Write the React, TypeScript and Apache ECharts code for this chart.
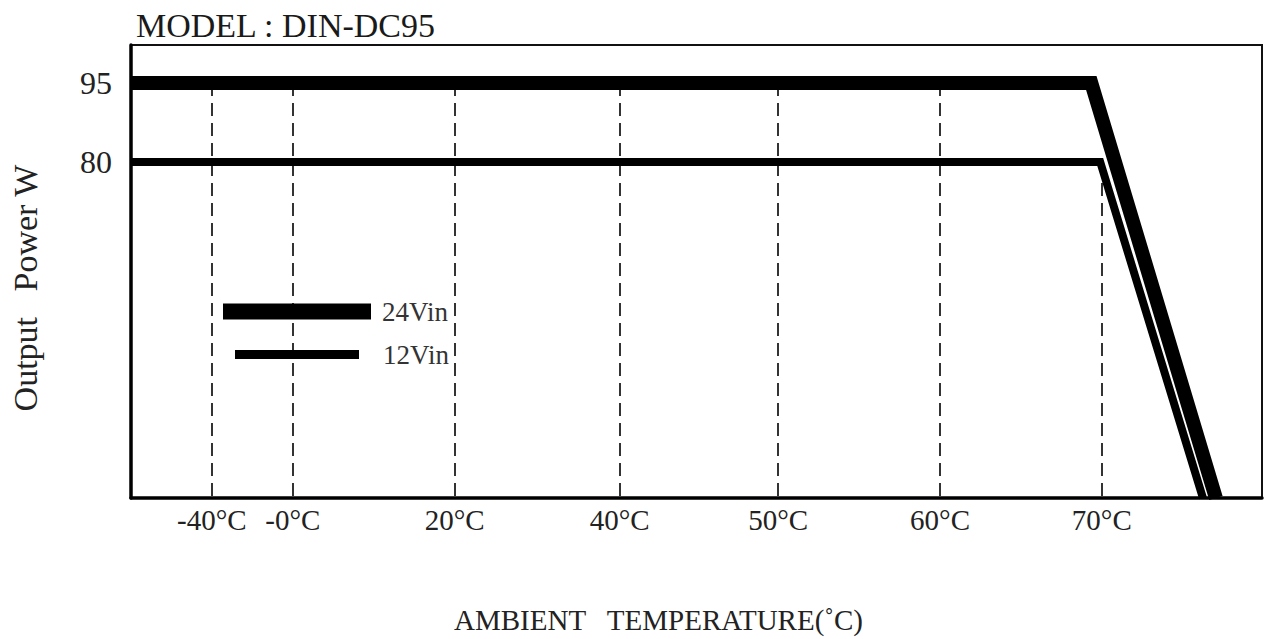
import React, { useEffect, useRef } from "react";
import * as echarts from "echarts";

// X axis is drawn in "position units": each tick label sits at its position on the printed axis.
const tickPositions = [1, 2, 4, 6.04, 8, 10, 12];
const tickLabels = ["-40°C", "-0°C", "20°C", "40°C", "50°C", "60°C", "70°C"];
// value (W) at which each dashed guide line starts (goes down to the bottom of the plot)
const guideTop = [95, 95, 95, 95, 95, 95, 76];

const powerTicks = [80, 95];
const powerLabels = ["80", "95"];

const seriesNames = ["24Vin", "12Vin"];
const vin24: [number, number][] = [
  [0, 95],
  [11.87, 95],
  [13.41, 16.2],
];
const vin12: [number, number][] = [
  [0, 80],
  [11.98, 80],
  [13.25, 16.2],
];

const X_MIN = 0;
const X_MAX = 13.98;
const Y_MIN = 16.2;
const Y_MAX = 102.2;

const FONT = "'Liberation Serif', 'Times New Roman', serif";

export default function App() {
  const ref = useRef<HTMLDivElement>(null);

  useEffect(() => {
    if (!ref.current) return;
    const chart = echarts.init(ref.current, null, { renderer: "svg" });

    const guideLines = tickPositions.map((p, i) => [
      { coord: [p, guideTop[i]] },
      { coord: [p, Y_MIN] },
    ]);

    const option: any = {
      animation: false,
      backgroundColor: "#ffffff",
      title: {
        text: "MODEL : DIN-DC95",
        left: 136,
        top: 8,
        padding: 0,
        textStyle: {
          fontFamily: FONT,
          fontSize: 34,
          fontWeight: "normal",
          color: "#1a1a1a",
        },
      },
      legend: [
        {
          data: [seriesNames[0]],
          left: 223,
          top: 298,
          padding: 0,
          icon: "rect",
          itemWidth: 148,
          itemHeight: 16,
          selectedMode: false,
          textStyle: {
            fontFamily: FONT,
            fontSize: 27,
            color: "#333",
            padding: [5, 0, 0, 6],
          },
        },
        {
          data: [seriesNames[1]],
          left: 235,
          top: 341,
          padding: 0,
          icon: "rect",
          itemWidth: 124,
          itemHeight: 9,
          selectedMode: false,
          textStyle: {
            fontFamily: FONT,
            fontSize: 27,
            color: "#333",
            padding: [0, 0, 0, 19],
          },
        },
      ],
      grid: {
        left: 131,
        right: 2,
        top: 45,
        bottom: 141,
        show: true,
        borderColor: "#111",
        borderWidth: 2,
        containLabel: false,
        outerBoundsMode: "none",
      },
      xAxis: {
        type: "value",
        min: X_MIN,
        max: X_MAX,
        name: "AMBIENT   TEMPERATURE(˚C)",
        nameLocation: "middle",
        nameGap: 107,
        nameTextStyle: {
          fontFamily: FONT,
          fontSize: 29,
          color: "#222",
          padding: [0, 76, 0, 0],
        },
        axisLine: { show: true, onZero: false, lineStyle: { color: "#000", width: 3.5 } },
        axisTick: { show: false },
        splitLine: { show: false },
        axisLabel: {
          customValues: tickPositions,
          margin: 7,
          fontFamily: FONT,
          fontSize: 29,
          color: "#222",
          formatter: (v: number) => {
            const i = tickPositions.findIndex((p) => Math.abs(p - v) < 1e-6);
            return i >= 0 ? tickLabels[i] : "";
          },
        },
      },
      yAxis: {
        type: "value",
        min: Y_MIN,
        max: Y_MAX,
        name: "Output   Power W",
        nameLocation: "middle",
        nameRotate: 90,
        nameGap: 89,
        nameTextStyle: {
          fontFamily: FONT,
          fontSize: 34,
          color: "#222",
          padding: [0, 33, 0, 0],
        },
        axisLine: { show: true, onZero: false, lineStyle: { color: "#000", width: 3.5 } },
        axisTick: { show: false },
        splitLine: { show: false },
        axisLabel: {
          customValues: powerTicks,
          margin: 19,
          fontFamily: FONT,
          fontSize: 32,
          color: "#222",
          formatter: (v: number) => {
            const i = powerTicks.findIndex((p) => Math.abs(p - v) < 1e-6);
            return i >= 0 ? powerLabels[i] : "";
          },
        },
      },
      series: [
        {
          name: seriesNames[1],
          type: "line",
          data: vin12,
          color: "#000",
          symbol: "none",
          lineStyle: { color: "#000", width: 8, join: "miter", cap: "butt" },
          z: 3,
          markLine: {
            silent: true,
            symbol: "none",
            label: { show: false },
            lineStyle: { color: "#333", width: 2, type: [13, 7] },
            data: guideLines,
            z: 2,
          },
        },
        {
          name: seriesNames[0],
          type: "line",
          data: vin24,
          color: "#000",
          symbol: "none",
          lineStyle: { color: "#000", width: 14, join: "miter", cap: "butt" },
          z: 4,
        },
      ],
    };

    chart.setOption(option);
    return () => chart.dispose();
  }, []);

  return (
    <div
      ref={ref}
      style={{ position: "fixed", left: 0, top: 0, width: "1264px", height: "639px" }}
    />
  );
}
